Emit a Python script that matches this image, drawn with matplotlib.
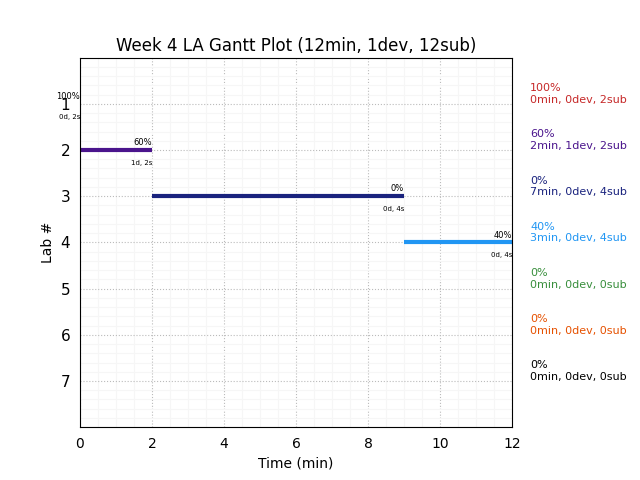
import matplotlib
matplotlib.use('Agg')
import matplotlib.pyplot as plt
from matplotlib.ticker import AutoMinorLocator

labs = [1, 2, 3, 4, 5, 6, 7]
start = [0, 0, 2, 9, 12, 12, 12]
minutes = [0, 2, 7, 3, 0, 0, 0]
devs = [0, 1, 0, 0, 0, 0, 0]
subs = [2, 2, 4, 4, 0, 0, 0]
pct = [100, 60, 0, 40, 0, 0, 0]
colors = ['#c62828', '#4a148c', '#1a237e', '#2196f3', '#388e3c', '#e65100', 'black']

fig, ax = plt.subplots(figsize=(6.4, 4.8), dpi=100)
fig.subplots_adjust(right=0.8)

for i, lab in enumerate(labs):
    end = start[i] + minutes[i]
    ax.hlines(lab, start[i], end, colors=colors[i], lw=3)
    if subs[i] > 0:
        ax.text(end, lab - 0.06, '%d%%' % pct[i], fontsize=6, ha='right', va='bottom')
        ax.text(end, lab + 0.21, '%dd, %ds' % (devs[i], subs[i]), fontsize=5, ha='right', va='top')
    ax.text(12.5, lab + 0.02, '%d%%\n%dmin, %ddev, %dsub' % (pct[i], minutes[i], devs[i], subs[i]),
            color=colors[i], fontsize=8, ha='left', va='bottom', clip_on=False)

ax.set_xlim(0, 12)
ax.set_ylim(8, 0)
ax.set_yticks(labs)
ax.yaxis.set_minor_locator(AutoMinorLocator(5))
ax.xaxis.set_minor_locator(AutoMinorLocator(4))
ax.tick_params(axis='both', which='both', length=0, pad=7)
ax.tick_params(axis='y', labelsize=11)
ax.grid(which='major', linestyle=':', color='#bbbbbb')
ax.grid(which='minor', linestyle='-', color='#f6f6f6', lw=0.8)
ax.set_axisbelow(True)
ax.set_xlabel('Time (min)')
ax.set_ylabel('Lab #')
ax.set_title('Week 4 LA Gantt Plot (12min, 1dev, 12sub)', pad=4.5)

plt.savefig('out.png')
